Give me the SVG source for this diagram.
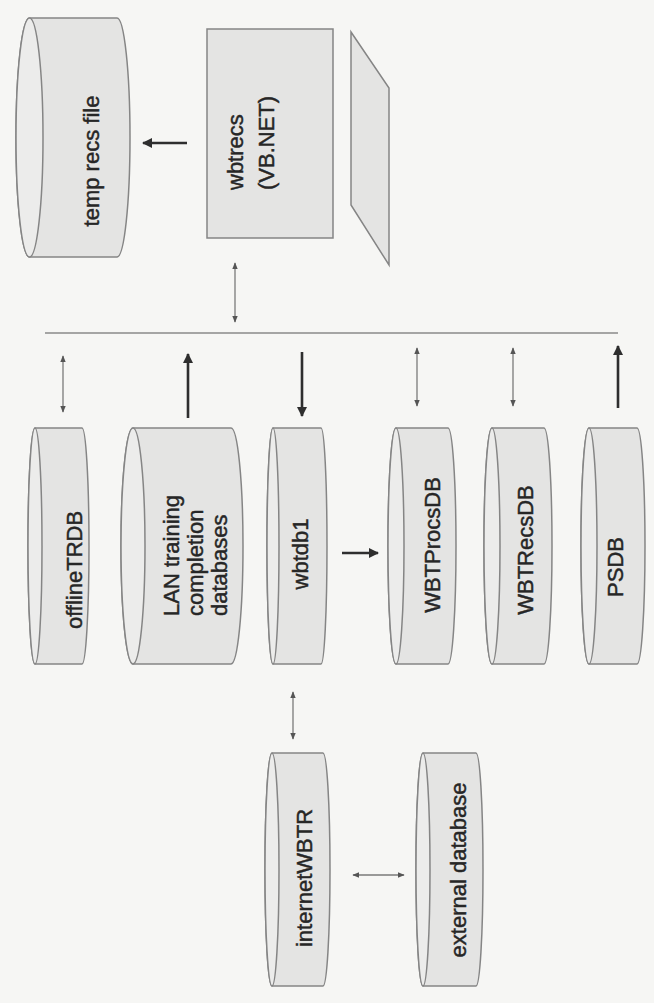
<svg xmlns="http://www.w3.org/2000/svg" width="654" height="1003" viewBox="0 0 654 1003">
<style>
.bg{fill:#f6f6f4}
.shape{fill:#e4e4e3;stroke:#858585;stroke-width:1.5}
.face{fill:#ececeb;stroke:#858585;stroke-width:1.5}
.lbl{font-family:"Liberation Sans",Arial,sans-serif;font-size:22px;fill:#262626;stroke:#262626;stroke-width:0.45}
.thin{stroke:#7a7a7a;stroke-width:1.3;fill:none}
.thick{stroke:#2e2e2e;stroke-width:2.6;fill:none}
.bus{stroke:#8a8a8a;stroke-width:1.3;fill:none}
</style>
<defs>
<marker id="ts" viewBox="0 0 10 10" refX="9" refY="5" markerWidth="7" markerHeight="7" markerUnits="userSpaceOnUse" orient="auto-start-reverse"><path d="M0,1 L10,5 L0,9 Z" fill="#555"/></marker>
<marker id="tk" viewBox="0 0 10 10" refX="9" refY="5" markerWidth="10" markerHeight="10" markerUnits="userSpaceOnUse" orient="auto"><path d="M0,0 L10,5 L0,10 Z" fill="#2e2e2e"/></marker>
</defs>
<rect class="bg" x="0" y="0" width="654" height="1003"/>

<g id="connectors">
<line class="bus" x1="45" y1="333" x2="618" y2="333"/>
<line class="thick" x1="187" y1="143" x2="143" y2="143" marker-end="url(#tk)"/>
<line class="thin" x1="235" y1="263" x2="235" y2="322" marker-start="url(#ts)" marker-end="url(#ts)"/>
<line class="thin" x1="63" y1="356" x2="63" y2="412" marker-start="url(#ts)" marker-end="url(#ts)"/>
<line class="thick" x1="188" y1="418" x2="188" y2="354" marker-end="url(#tk)"/>
<line class="thick" x1="302" y1="352" x2="302" y2="416" marker-end="url(#tk)"/>
<line class="thin" x1="417" y1="348" x2="417" y2="406" marker-start="url(#ts)" marker-end="url(#ts)"/>
<line class="thin" x1="513" y1="348" x2="513" y2="406" marker-start="url(#ts)" marker-end="url(#ts)"/>
<line class="thick" x1="618" y1="408" x2="618" y2="346" marker-end="url(#tk)"/>
<line class="thick" x1="342" y1="553" x2="378" y2="553" stroke-width="3.2" marker-end="url(#tk)"/>
<line class="thin" x1="293" y1="692" x2="293" y2="739" marker-start="url(#ts)" marker-end="url(#ts)"/>
<line class="thin" x1="353" y1="875" x2="404" y2="875" marker-start="url(#ts)" marker-end="url(#ts)"/>
</g>

<g id="temp-recs-file">
<path class="shape" d="M29.5,18 H117 A13,119.5 0 0 1 117,257 H29.5 A13.5,119.5 0 0 1 29.5,18 Z"/>
<ellipse class="face" cx="29.5" cy="137.5" rx="13.5" ry="119.5"/>
<text class="lbl" text-anchor="middle" transform="translate(99,161) rotate(-90)">temp recs file</text>
</g>

<g id="wbtrecs">
<rect class="shape" x="207" y="29" width="126" height="209"/>
<text class="lbl" text-anchor="start" transform="translate(243,190) rotate(-90)">wbtrecs</text>
<text class="lbl" text-anchor="start" transform="translate(274,190) rotate(-90)">(VB.NET)</text>
</g>

<g id="display">
<polygon class="shape" points="351,32 389,88 389,265 351,205"/>
</g>

<g id="offlineTRDB">
<path class="shape" d="M35,428 H82 A7,118 0 0 1 82,664 H35 A7,118 0 0 1 35,428 Z"/>
<ellipse class="face" cx="35" cy="546" rx="7" ry="118"/>
<text class="lbl" text-anchor="middle" transform="translate(82,570) rotate(-90)">offlineTRDB</text>
</g>

<g id="LAN-training">
<path class="shape" d="M133,428 H231 A12,118 0 0 1 231,664 H133 A12,118 0 0 1 133,428 Z"/>
<ellipse class="face" cx="133" cy="546" rx="12" ry="118"/>
<text class="lbl" text-anchor="start" transform="translate(179,616) rotate(-90)">LAN training</text>
<text class="lbl" text-anchor="start" transform="translate(203,616) rotate(-90)">completion</text>
<text class="lbl" text-anchor="start" transform="translate(227,616) rotate(-90)">databases</text>
</g>

<g id="wbtdb1">
<path class="shape" d="M273,428 H321 A6,118 0 0 1 321,664 H273 A6,118 0 0 1 273,428 Z"/>
<ellipse class="face" cx="273" cy="546" rx="6" ry="118"/>
<text class="lbl" text-anchor="middle" transform="translate(308,554) rotate(-90)">wbtdb1</text>
</g>

<g id="WBTProcsDB">
<path class="shape" d="M396,428 H448 A8,118 0 0 1 448,664 H396 A8,118 0 0 1 396,428 Z"/>
<ellipse class="face" cx="396" cy="546" rx="8" ry="118"/>
<text class="lbl" text-anchor="middle" transform="translate(440,545) rotate(-90)">WBTProcsDB</text>
</g>

<g id="WBTRecsDB">
<path class="shape" d="M492,428 H544 A8,118 0 0 1 544,664 H492 A8,118 0 0 1 492,428 Z"/>
<ellipse class="face" cx="492" cy="546" rx="8" ry="118"/>
<text class="lbl" text-anchor="middle" transform="translate(533,550) rotate(-90)">WBTRecsDB</text>
</g>

<g id="PSDB">
<path class="shape" d="M589,428 H637 A8,118 0 0 1 637,664 H589 A8,118 0 0 1 589,428 Z"/>
<ellipse class="face" cx="589" cy="546" rx="8" ry="118"/>
<text class="lbl" text-anchor="middle" transform="translate(623,567) rotate(-90)">PSDB</text>
</g>

<g id="internetWBTR">
<path class="shape" d="M272,753 H323 A7,116.5 0 0 1 323,986 H272 A7,116.5 0 0 1 272,753 Z"/>
<ellipse class="face" cx="272" cy="869.5" rx="7" ry="116.5"/>
<text class="lbl" text-anchor="middle" transform="translate(312,878) rotate(-90)">internetWBTR</text>
</g>

<g id="external-database">
<path class="shape" d="M423,753 H476 A7,116.5 0 0 1 476,986 H423 A7,116.5 0 0 1 423,753 Z"/>
<ellipse class="face" cx="423" cy="869.5" rx="7" ry="116.5"/>
<text class="lbl" text-anchor="middle" transform="translate(466,870) rotate(-90)">external database</text>
</g>
</svg>
